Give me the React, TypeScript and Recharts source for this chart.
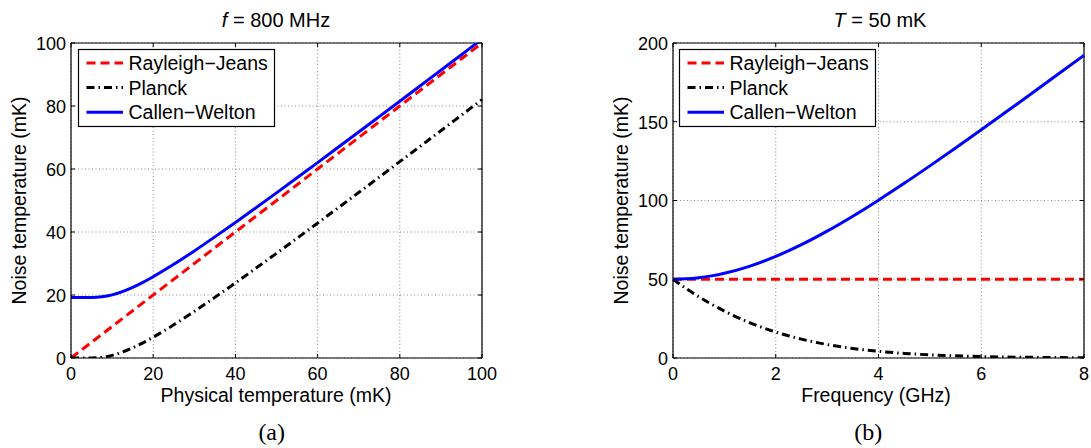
import React from 'react';
import { LineChart, Line, XAxis, YAxis, CartesianGrid, ReferenceLine, Legend } from 'recharts';

// ---------- Panel (a): f = 800 MHz ----------
const physTempMK = [0, 2.5, 5, 7.5, 10, 12.5, 15, 17.5, 20, 25, 30, 35, 40, 45, 50, 55, 60, 65, 70, 75, 80, 85, 90, 95, 100];
const rayleighA = [0, 2.5, 5, 7.5, 10, 12.5, 15, 17.5, 20, 25, 30, 35, 40, 45, 50, 55, 60, 65, 70, 75, 80, 85, 90, 95, 100];
const planckA = [0, 0, 0.02, 0.23, 0.84, 1.87, 3.22, 4.82, 6.6, 10.53, 14.79, 19.25, 23.82, 28.51, 33.23, 38.01, 42.83, 47.68, 52.54, 57.43, 62.33, 67.24, 72.15, 77.09, 82.03];
const callenA = [19.2, 19.2, 19.22, 19.43, 20.04, 21.07, 22.42, 24.02, 25.8, 29.73, 33.99, 38.45, 43.02, 47.71, 52.43, 57.21, 62.03, 66.88, 71.74, 76.63, 81.53, 86.44, 91.35, 96.29, 101.23];
const xTicksA = [0, 20, 40, 60, 80, 100];
const yTicksA = [0, 20, 40, 60, 80, 100];

// ---------- Panel (b): T = 50 mK ----------
const freqGHz = [0, 0.25, 0.5, 0.75, 1, 1.5, 2, 2.5, 3, 3.5, 4, 4.5, 5, 5.5, 6, 6.5, 7, 7.5, 8];
const rayleighB = [50, 50, 50, 50, 50, 50, 50, 50, 50, 50, 50, 50, 50, 50, 50, 50, 50, 50, 50];
const planckB = [50, 44.25, 38.95, 34.14, 29.78, 22.36, 16.49, 11.97, 8.56, 6.05, 4.22, 2.91, 1.99, 1.35, 0.91, 0.61, 0.41, 0.27, 0.18];
const callenB = [50, 50.25, 50.95, 52.14, 53.78, 58.36, 64.49, 71.97, 80.56, 90.05, 100.22, 110.91, 121.99, 133.35, 144.91, 156.61, 168.41, 180.27, 192.18];
const xTicksB = [0, 2, 4, 6, 8];
const yTicksB = [0, 50, 100, 150, 200];

const seriesNames = ['Rayleigh\u2212Jeans', 'Planck', 'Callen\u2212Welton'];

const SANS = '"Liberation Sans", Arial, Helvetica, sans-serif';
const SERIF = '"Liberation Serif", "Times New Roman", serif';

const SERIES = [
  { key: 'rj', name: seriesNames[0], color: '#ff0000', dash: '9 5', type: 'linear' as const },
  { key: 'pl', name: seriesNames[1], color: '#000000', dash: '8 4 1.5 4', type: 'monotone' as const },
  { key: 'cw', name: seriesNames[2], color: '#0000ff', dash: undefined as string | undefined, type: 'monotone' as const },
];

const rowsA = physTempMK.map((x, i) => ({ x, rj: rayleighA[i], pl: planckA[i], cw: callenA[i] }));
const rowsB = freqGHz.map((x, i) => ({ x, rj: rayleighB[i], pl: planckB[i], cw: callenB[i] }));

const H = 448;
const YW = 40;
const XH = 30;

type Plot = { l: number; r: number; t: number; b: number };

function LegendBox() {
  const w = 197;
  const h = 78;
  return (
    <svg width={w} height={h} style={{ display: 'block', overflow: 'visible' }}>
      <rect x={0.5} y={0.5} width={w - 1} height={h - 1} fill="#fff" stroke="#000" strokeWidth={1.2} />
      {SERIES.map((s, i) => {
        const cy = 14 + i * 24.6;
        return (
          <g key={s.key}>
            <line x1={8.5} x2={45} y1={cy} y2={cy} stroke={s.color} strokeWidth={3} strokeDasharray={s.dash} />
            <text x={50.5} y={cy + 7} fontSize={19.5} fontFamily={SANS} fill="#000">{s.name}</text>
          </g>
        );
      })}
    </svg>
  );
}

function Panel(props: {
  left: number; width: number; plot: Plot; rows: any[];
  xMax: number; yMax: number; xTicks: number[]; yTicks: number[];
  legendLeft: number; clipY: boolean;
}) {
  const { left, width, plot, rows, xMax, yMax, xTicks, yTicks, legendLeft, clipY } = props;
  const XTick = (p: any) => {
    const x = p.x;
    return (
      <g>
        <line x1={x} x2={x} y1={plot.b} y2={plot.b - 4} stroke="#000" />
        <line x1={x} x2={x} y1={plot.t} y2={plot.t + 4} stroke="#000" />
        <text x={x} y={plot.b + 21.5} textAnchor="middle" fontSize={18} fontFamily={SANS} fill="#000">{p.payload.value}</text>
      </g>
    );
  };
  const YTick = (p: any) => {
    const y = p.y;
    return (
      <g>
        <line x1={plot.l} x2={plot.l + 4} y1={y} y2={y} stroke="#000" />
        <line x1={plot.r - 4} x2={plot.r} y1={y} y2={y} stroke="#000" />
        <text x={plot.l - 5} y={y + 6.8} textAnchor="end" fontSize={18} fontFamily={SANS} fill="#000">{p.payload.value}</text>
      </g>
    );
  };
  return (
    <div style={{ position: 'absolute', left, top: 0 }}>
      <LineChart
        width={width}
        height={H}
        data={rows}
        margin={{ top: plot.t, left: plot.l - YW, right: width - plot.r, bottom: H - plot.b - XH }}
      >
        <CartesianGrid stroke="#8a8a8a" strokeDasharray="1 2.5" />
        <XAxis
          type="number" dataKey="x" domain={[0, xMax]} ticks={xTicks} interval={0}
          height={XH} tickSize={0} tickMargin={0} tickLine={false}
          axisLine={{ stroke: '#000', strokeWidth: 1.2 }} tick={XTick}
        />
        <YAxis
          type="number" domain={[0, yMax]} ticks={yTicks} interval={0} allowDataOverflow={clipY}
          width={YW} tickSize={0} tickMargin={0} tickLine={false}
          axisLine={{ stroke: '#000', strokeWidth: 1.2 }} tick={YTick}
        />
        <ReferenceLine y={yMax} stroke="#000" strokeWidth={1.2} />
        <ReferenceLine x={xMax} stroke="#000" strokeWidth={1.2} />
        {SERIES.map((s) => (
          <Line
            key={s.key}
            dataKey={s.key}
            name={s.name}
            type={s.type}
            stroke={s.color}
            strokeWidth={3}
            strokeDasharray={s.dash}
            dot={false}
            activeDot={false}
            isAnimationActive={false}
          />
        ))}
        <Legend
          layout="vertical" align="center" verticalAlign="middle"
          wrapperStyle={{ position: 'absolute', left: legendLeft, top: 49, width: 197, height: 78 }}
          content={() => <LegendBox />}
        />
      </LineChart>
    </div>
  );
}

export default function App() {
  return (
    <div style={{ position: 'absolute', left: 0, top: 0, width: 1091, height: 448, background: '#fff', overflow: 'hidden' }}>
      <Panel left={0} width={545} plot={{ l: 71, r: 482, t: 43, b: 358 }} rows={rowsA}
        xMax={100} yMax={100} xTicks={xTicksA} yTicks={yTicksA} legendLeft={78} clipY={true} />
      <Panel left={545} width={546} plot={{ l: 128, r: 539, t: 43, b: 358 }} rows={rowsB}
        xMax={8} yMax={200} xTicks={xTicksB} yTicks={yTicksB} legendLeft={134} clipY={true} />
      <svg width={1091} height={448} style={{ position: 'absolute', left: 0, top: 0, pointerEvents: 'none' }}>
        <g fontFamily={SANS} fontSize={20} fill="#000">
          <text x={276} y={26.7} textAnchor="middle"><tspan fontStyle="italic">f</tspan> = 800 MHz</text>
          <text x={880} y={26.7} textAnchor="middle"><tspan fontStyle="italic">T</tspan> = 50 mK</text>
        </g>
        <g fontFamily={SANS} fontSize={19.5} fill="#000">
          <text x={276} y={402} textAnchor="middle">Physical temperature (mK)</text>
          <text x={876} y={402} textAnchor="middle">Frequency (GHz)</text>
          <text transform="translate(26,200.5) rotate(-90)" textAnchor="middle">Noise temperature (mK)</text>
          <text transform="translate(627.7,200.5) rotate(-90)" textAnchor="middle">Noise temperature (mK)</text>
        </g>
        <g fontFamily={SERIF} fontSize={24} fill="#000">
          <text x={271.7} y={439.5} textAnchor="middle">(a)</text>
          <text x={868.3} y={439.5} textAnchor="middle">(b)</text>
        </g>
      </svg>
    </div>
  );
}
